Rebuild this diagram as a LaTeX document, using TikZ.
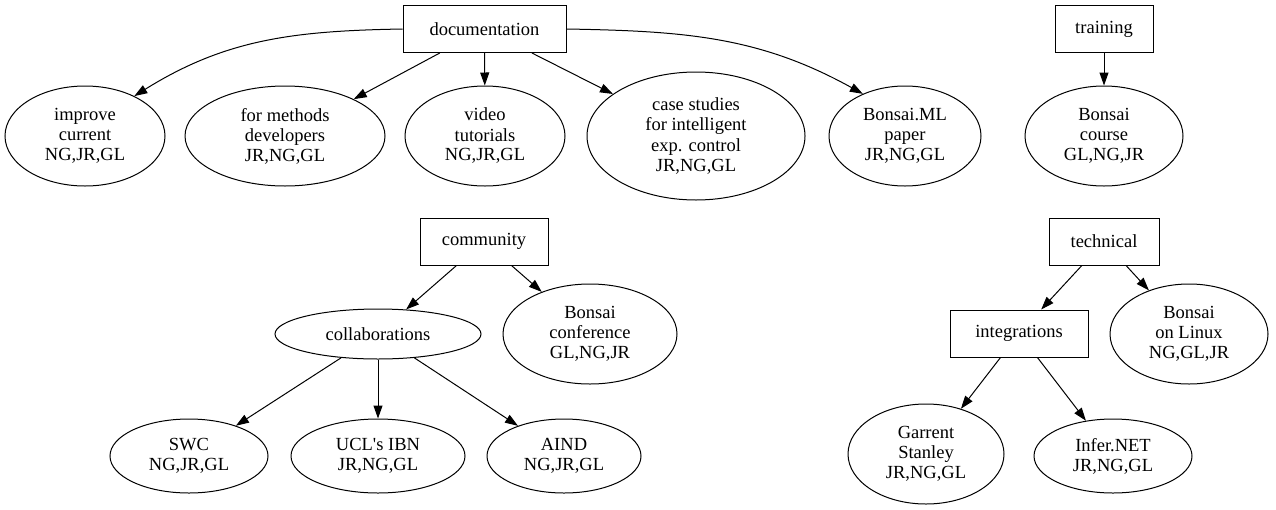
\documentclass[tikz,border=0pt]{standalone}
\usepackage{fontspec}
\setmainfont{Liberation Serif}
\newfontfamily\graphfont{Liberation Serif}
\usetikzlibrary{positioning,arrows.meta,shapes,calc}

\begin{document}
\begin{tikzpicture}[x=1pt, y=1pt, line width=1pt,
    every node/.style={font=\graphfont\fontsize{18.5}{20}\selectfont},
    topic/.style={draw, rectangle, minimum height=47pt, inner sep=0pt},
    task/.style={draw, ellipse, align=center, inner sep=0pt},
    arr/.style={-{Triangle[length=13pt,width=9pt]}}]
    \useasboundingbox (0,0) rectangle (1276,-509);

    % Documentation tasks
    \node[topic, minimum width=163pt] (doc) at (484.5,-29) {documentation};
    \node[task, minimum width=160pt, minimum height=100pt] (imp) at (85,-136) {improve\\current\\NG,JR,GL};
    \node[task, minimum width=200pt, minimum height=100pt] (meth) at (285,-136) {for methods\\developers\\JR,NG,GL};
    \node[task, minimum width=160pt, minimum height=100pt] (vid) at (485,-136) {video\\tutorials\\NG,JR,GL};
    \node[task, minimum width=218pt, minimum height=128pt] (case) at (696,-136) {case studies\\for intelligent\\exp. control\\JR,NG,GL};
    \node[task, minimum width=152pt, minimum height=100pt] (bml) at (905,-136) {Bonsai.ML\\paper\\JR,NG,GL};

    % Training
    \node[topic, minimum width=98pt] (train) at (1104,-29) {training};
    \node[task, minimum width=158pt, minimum height=100pt] (course) at (1104,-136) {Bonsai\\course\\GL,NG,JR};

    % Community
    \node[topic, minimum width=128pt] (comm) at (484,-241.5) {community};
    \node[task, minimum width=206pt, minimum height=50pt] (collab) at (378,-334) {collaborations};
    \node[task, minimum width=174pt, minimum height=100pt] (conf) at (590,-334) {Bonsai\\conference\\GL,NG,JR};
    \node[task, minimum width=158pt, minimum height=74pt] (swc) at (189,-456) {SWC\\NG,JR,GL};
    \node[task, minimum width=174pt, minimum height=74pt] (ucl) at (378,-456) {UCL's IBN\\JR,NG,GL};
    \node[task, minimum width=154pt, minimum height=74pt] (aind) at (564,-456) {AIND\\NG,JR,GL};

    % Technical
    \node[topic, minimum width=110pt] (tech) at (1104,-241.5) {technical};
    \node[topic, minimum width=138pt] (integ) at (1019,-333.5) {integrations};
    \node[task, minimum width=158pt, minimum height=100pt] (linux) at (1189,-334) {Bonsai\\on Linux\\NG,GL,JR};
    \node[task, minimum width=156pt, minimum height=100pt] (garr) at (926,-454) {Garrent\\Stanley\\JR,NG,GL};
    \node[task, minimum width=158pt, minimum height=74pt] (infer) at (1113,-456) {Infer.NET\\JR,NG,GL};

    % Edges
    \draw[arr] (doc.west) to[out=181, in=32] (imp.39);
    \draw[arr] (doc) -- (meth);
    \draw[arr] (doc) -- (vid);
    \draw[arr] (doc) -- (case);
    \draw[arr] (doc.east) to[out=-1, in=151] (bml.135);
    \draw[arr] (train) -- (course);
    \draw[arr] (comm) -- (collab);
    \draw[arr] (comm) -- (conf);
    \draw[arr] (collab) -- (swc);
    \draw[arr] (collab) -- (ucl);
    \draw[arr] (collab) -- (aind);
    \draw[arr] (tech) -- (integ);
    \draw[arr] (tech) -- (linux);
    \draw[arr] (integ) -- (garr);
    \draw[arr] (integ) -- (infer);
\end{tikzpicture}
\end{document}
